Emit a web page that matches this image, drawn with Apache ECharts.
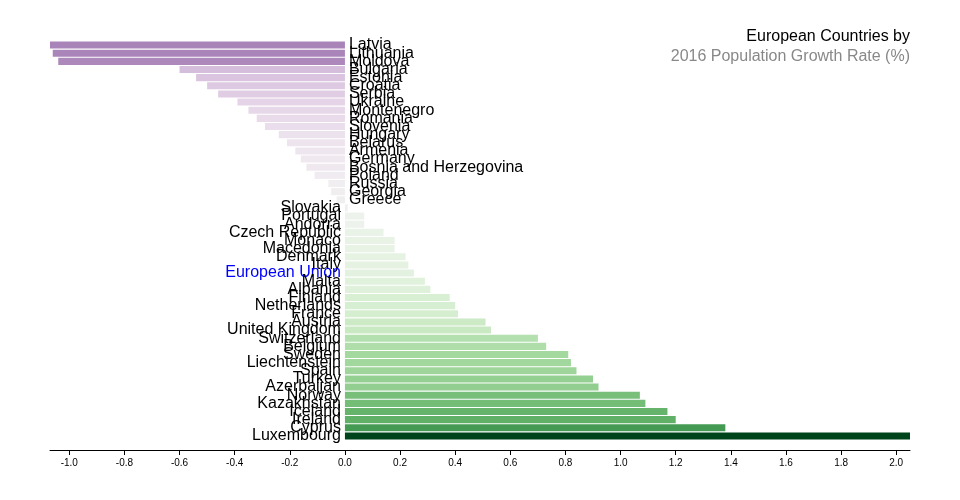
<!DOCTYPE html>
<html>
<head>
<meta charset="utf-8">
<script src="https://cdn.jsdelivr.net/npm/echarts@6/dist/echarts.min.js"></script>
<style>
  html, body { margin: 0; padding: 0; background: #fff; }
  #chart { width: 960px; height: 500px; }
</style>
</head>
<body>
<div id="chart"></div>
<script>
// countries, sorted by growth rate (top to bottom)
var countries = ['Latvia','Lithuania','Moldova','Bulgaria','Estonia','Croatia','Serbia','Ukraine',
    'Montenegro','Romania','Slovenia','Hungary','Belarus','Armenia','Germany','Bosnia and Herzegovina',
    'Poland','Russia','Georgia','Greece','Slovakia','Portugal','Andorra','Czech Republic','Monaco',
    'Macedonia','Denmark','Italy','European Union','Malta','Albania','Finland','Netherlands','France',
    'Austria','United Kingdom','Switzerland','Belgium','Sweden','Liechtenstein','Spain','Turkey',
    'Azerbaijan','Norway','Kazakhstan','Iceland','Ireland','Cyprus','Luxembourg'];

// 2016 population growth rate (%)
var growthRate = [-1.07,-1.06,-1.04,-0.60,-0.54,-0.50,-0.46,-0.39,
    -0.35,-0.32,-0.29,-0.24,-0.21,-0.18,-0.16,-0.14,
    -0.11,-0.06,-0.05,-0.03,0.01,0.07,0.07,0.14,0.18,
    0.18,0.22,0.23,0.25,0.29,0.31,0.38,0.40,0.41,
    0.51,0.53,0.70,0.73,0.81,0.82,0.84,0.90,
    0.92,1.07,1.09,1.17,1.20,1.38,2.05];

var tickValues = [-1.0,-0.8,-0.6,-0.4,-0.2,0.0,0.2,0.4,0.6,0.8,1.0,1.2,1.4,1.6,1.8,2.0];

var highlight = 'European Union';

//PRGn 颜色（b样条插值）
var prgn = ['#40004b','#762a83','#9970ab','#c2a5cf','#e7d4e8','#f7f7f7','#d9f0d3','#a6dba0','#5aae61','#1b7837','#00441b'];

function hexToRgb(h){
    return [parseInt(h.substr(1,2),16), parseInt(h.substr(3,2),16), parseInt(h.substr(5,2),16)];
}

function basis(t1, v0, v1, v2, v3){
    var t2 = t1*t1, t3 = t2*t1;
    return ((1 - 3*t1 + 3*t2 - t3)*v0 + (4 - 6*t2 + 3*t3)*v1 + (1 + 3*t1 + 3*t2 - 3*t3)*v2 + t3*v3)/6;
}

function basisChannel(values, t){
    var n = values.length - 1;
    var i;
    if (t <= 0) { t = 0; i = 0; }
    else if (t >= 1) { t = 1; i = n - 1; }
    else { i = Math.floor(t*n); }
    var v1 = values[i], v2 = values[i+1];
    var v0 = i > 0 ? values[i-1] : 2*v1 - v2;
    var v3 = i < n - 1 ? values[i+2] : 2*v2 - v1;
    return basis((t - i/n)*n, v0, v1, v2, v3);
}

var rgbList = prgn.map(hexToRgb);
function colorAt(t){
    var out = [];
    for (var c = 0; c < 3; c++) {
        var vals = rgbList.map(function(r){ return r[c]; });
        out.push(Math.max(0, Math.min(255, Math.round(basisChannel(vals, t)))));
    }
    return 'rgb(' + out.join(',') + ')';
}

var xMin = Math.min.apply(null, growthRate);
var xMax = Math.max.apply(null, growthRate);
var cMax = Math.max(Math.abs(xMin), Math.abs(xMax));

var barData = [];
for (var i = 0; i < countries.length; i++) {
    var v = growthRate[i];
    barData.push({
        value: v,
        itemStyle: { color: colorAt((v + cMax)/(2*cMax)) },
        label: {
            position: v < 0 ? 'right' : 'left',
            color: countries[i] == highlight ? '#0000ff' : '#000'
        }
    });
}

var myChart = echarts.init(document.getElementById('chart'));
myChart.setOption({
    backgroundColor: '#fff',
    animation: false,
    //标题（两行，右对齐）
    title: [{
        text: 'European Countries by',
        right: 45,
        top: 24,
        textStyle: {
            fontFamily: 'Liberation Sans',
            fontSize: 16,
            fontWeight: 'normal',
            color: '#000'
        }
    }, {
        text: '2016 Population Growth Rate (%)',
        right: 45,
        top: 44,
        textStyle: {
            fontFamily: 'Liberation Sans',
            fontSize: 16,
            fontWeight: 'normal',
            color: '#888'
        }
    }],
    grid: {
        top: 41,
        bottom: 60,
        left: 50,
        right: 50
    },
    xAxis: {
        type: 'value',
        min: xMin,
        max: xMax,
        offset: 10,
        position: 'bottom',
        splitLine: { show: false },
        axisLine: { show: true, lineStyle: { color: '#000', width: 1 } },
        axisTick: {
            show: true,
            length: 5,
            customValues: tickValues,
            lineStyle: { color: '#000' }
        },
        axisLabel: {
            customValues: tickValues,
            margin: 8,
            fontFamily: 'Liberation Sans',
            fontSize: 10,
            color: '#000',
            formatter: function (val) {
                return val.toFixed(1);
            }
        }
    },
    yAxis: {
        type: 'category',
        inverse: true,
        data: countries,
        show: false
    },
    series: [{
        type: 'bar',
        data: barData,
        barCategoryGap: '13%',
        label: {
            show: true,
            distance: 4,
            fontFamily: 'Liberation Sans',
            fontSize: 16,
            formatter: function (p) {
                return p.name;
            }
        }
    }]
});
</script>
</body>
</html>
